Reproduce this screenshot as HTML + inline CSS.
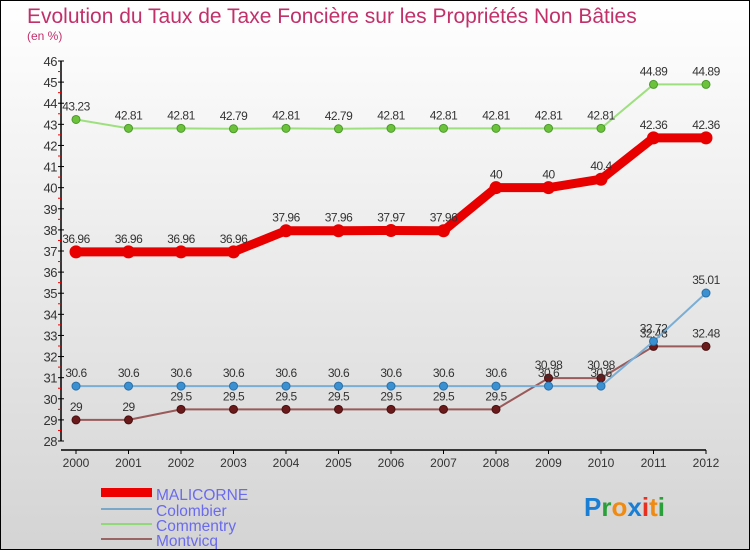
<!DOCTYPE html>
<html><head><meta charset="utf-8"><style>
body{margin:0}
#c{width:748px;height:548px;border:1px solid #000;background:linear-gradient(#fff,#d4d4d4);position:relative;font-family:"Liberation Sans",sans-serif;overflow:hidden}
</style></head><body>
<div id="c">
<svg width="748" height="548" id="s">
<text x="26" y="22" font-size="21" fill="#c2306a">Evolution du Taux de Taxe Foncière sur les Propriétés Non Bâties</text>
<text x="26" y="39" font-size="12" fill="#c2306a">(en %)</text>
<g id="axes"></g><g id="series"></g>
<g>
<rect x="100" y="487" width="51" height="9" fill="#e00"/>
<text x="155" y="499" font-size="15.5" fill="#6a6aee">MALICORNE</text>
<line x1="100" y1="508" x2="151" y2="508" stroke="#7aa8c8" stroke-width="2"/>
<text x="155" y="515" font-size="15.5" fill="#6a6aee">Colombier</text>
<line x1="100" y1="523" x2="151" y2="523" stroke="#90d878" stroke-width="2"/>
<text x="155" y="530" font-size="15.5" fill="#6a6aee">Commentry</text>
<line x1="100" y1="538" x2="151" y2="538" stroke="#9a6464" stroke-width="2"/>
<text x="155" y="545" font-size="15.5" fill="#6a6aee">Montvicq</text>
</g>
<text x="583" y="515" font-size="26" font-weight="bold"><tspan fill="#1a7fd4">P</tspan><tspan fill="#2aa03a">r</tspan><tspan fill="#f08a10">o</tspan><tspan fill="#1a7fd4">x</tspan><tspan fill="#e83020">i</tspan><tspan fill="#f08a10">t</tspan><tspan fill="#2aa03a">i</tspan></text>
</svg></div>
<script>
const years=[2000,2001,2002,2003,2004,2005,2006,2007,2008,2009,2010,2011,2012];
const malicorne=[36.96,36.96,36.96,36.96,37.96,37.96,37.97,37.96,40,40,40.4,42.36,42.36];
const colombier=[30.6,30.6,30.6,30.6,30.6,30.6,30.6,30.6,30.6,30.6,30.6,32.72,35.01];
const commentry=[43.23,42.81,42.81,42.79,42.81,42.79,42.81,42.81,42.81,42.81,42.81,44.89,44.89];
const montvicq=[29,29,29.5,29.5,29.5,29.5,29.5,29.5,29.5,30.98,30.98,32.48,32.48];
const yTicks=[28,29,30,31,32,33,34,35,36,37,38,39,40,41,42,43,44,45,46];
const NS="http://www.w3.org/2000/svg";
const X=i=>75+i*52.5, Y=v=>440-(v-28)*(380/18);
function mk(t,a,p){const e=document.createElementNS(NS,t);for(const k in a)e.setAttribute(k,a[k]);p.appendChild(e);return e;}
const ax=document.getElementById('axes'), sg=document.getElementById('series');
let l=mk('line',{x1:60,y1:60,x2:60,y2:440,stroke:'#000','stroke-width':1.5},ax);


l=mk('line',{x1:60,y1:449,x2:705,y2:449,stroke:'#000','stroke-width':1.5},ax);


yTicks.forEach(v=>{
 mk('line',{x1:57,y1:Y(v),x2:63,y2:Y(v),stroke:'#000'},ax);
 if(v<46) mk('line',{x1:57,y1:Y(v+0.5),x2:60,y2:Y(v+0.5),stroke:'#e00'},ax);
 const t=mk('text',{x:56,y:Y(v)+5,'font-size':13,'text-anchor':'end',fill:'#333','letter-spacing':'-0.5'},ax);
 t.textContent=v;
 
 
});
years.forEach((y,i)=>{
 mk('line',{x1:X(i),y1:449,x2:X(i),y2:453,stroke:'#000'},ax);
 const t=mk('text',{x:X(i),y:466,'font-size':12,'text-anchor':'middle',fill:'#333'},ax);
 t.textContent=y;
 
 
});
function series(vals,name,col,lw,r,dot,dotStroke){
 const g=mk('g',{},sg);
 
 
 const p=mk('polyline',{points:vals.map((v,i)=>X(i)+','+Y(v)).join(' '),fill:'none',stroke:col,'stroke-width':lw,'stroke-linejoin':'round'},g);
 
 
 vals.forEach((v,i)=>{
  const c=mk('circle',{cx:X(i),cy:Y(v),r:r,fill:dot,stroke:dotStroke,'stroke-width':1},g);
  
  
  const t=mk('text',{x:X(i),y:Y(v)-9,'font-size':12,'text-anchor':'middle',fill:'#333','letter-spacing':'-0.5'},g);
  t.textContent=v;
  
  
 });
}
series(commentry,'commentry','#9ee07e',2,4,'#6cc23a','#4a9a2a');
series(montvicq,'montvicq','#9a5a5a',2,4,'#6a1a1a','#4a1010');
series(colombier,'colombier','#7aaed4',2,4,'#3a90d0','#2a70a8');
series(malicorne,'malicorne','#e80000',9,6,'#e80000','#e80000');
</script>
</body></html>
